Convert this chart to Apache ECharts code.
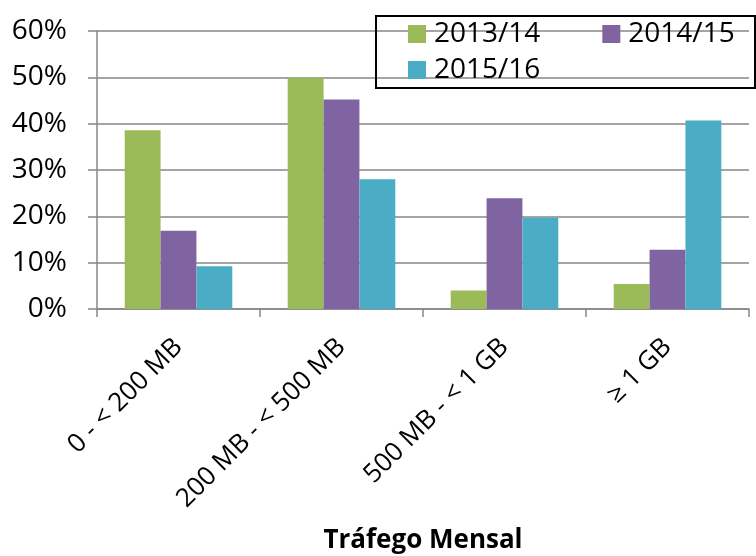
<!DOCTYPE html>
<html>
<head>
<meta charset="utf-8">
<script src="https://cdn.jsdelivr.net/npm/echarts@6/dist/echarts.min.js"></script>
<style>
  html, body { margin: 0; padding: 0; background: #fff; }
  #chart { width: 756px; height: 556px; }
</style>
</head>
<body>
<div id="chart"></div>
<script>
// categorias de tráfego
var categories = ['0 - < 200 MB', '200 MB - < 500 MB', '500 MB - < 1 GB', '≥ 1 GB'];
// valores em %
var s201314 = [38.6, 49.9, 4.0, 5.4];
var s201415 = [16.9, 45.2, 23.9, 12.8];
var s201516 = [9.2, 28.0, 19.7, 40.7];
var yTicks = [0, 10, 20, 30, 40, 50, 60];

var font = '"Open Sans", "DejaVu Sans", sans-serif';
var gray = '#878787';

var chart = echarts.init(document.getElementById('chart'));

var legendText = { fontSize: 28, color: '#000', fontFamily: font, padding: [0, 0, 0, 3] };

var option = {
    animation: false,
    textStyle: { fontFamily: font },
    graphic: [{
        type: 'rect',
        shape: { x: 376, y: 16, width: 379, height: 72 },
        style: { fill: 'none', stroke: '#000', lineWidth: 2 },
        z: 10
    }],
    legend: [{
        data: ['2013/14', '2014/15'],
        left: 408,
        top: 20,
        padding: 0,
        itemWidth: 18,
        itemHeight: 18,
        itemGap: 62,
        textStyle: legendText,
        icon: 'rect'
    }, {
        data: ['2015/16'],
        left: 408,
        top: 56,
        padding: 0,
        itemWidth: 18,
        itemHeight: 18,
        textStyle: legendText,
        icon: 'rect'
    }],
    grid: { left: 97, right: 7, top: 31, bottom: 247, containLabel: false, outerBoundsMode: 'none' },
    xAxis: {
        type: 'category',
        data: categories,
        name: 'Tráfego Mensal',
        nameLocation: 'middle',
        nameGap: 219,
        nameTextStyle: { fontSize: 26, fontWeight: 'bold', color: '#000', fontFamily: font },
        axisLine: { lineStyle: { color: gray, width: 1.5 } },
        axisTick: { show: true, length: 8, lineStyle: { color: gray, width: 1.5 } },
        axisLabel: { rotate: 45, fontSize: 26, color: '#000', margin: 34, fontFamily: font }
    },
    yAxis: {
        type: 'value',
        min: yTicks[0],
        max: yTicks[yTicks.length - 1],
        interval: 10,
        axisLine: { show: true, lineStyle: { color: gray, width: 1.5 } },
        axisTick: { show: true, length: 9, lineStyle: { color: gray, width: 1.5 } },
        splitLine: { lineStyle: { color: gray, width: 1.5 } },
        axisLabel: { formatter: '{value}%', fontSize: 28, color: '#000', margin: 30, fontFamily: font }
    },
    series: [
        { name: '2013/14', type: 'bar', data: s201314, barGap: 0, barCategoryGap: '34%', itemStyle: { color: '#9BBB59' } },
        { name: '2014/15', type: 'bar', data: s201415, barGap: 0, barCategoryGap: '34%', itemStyle: { color: '#8064A2' } },
        { name: '2015/16', type: 'bar', data: s201516, barGap: 0, barCategoryGap: '34%', itemStyle: { color: '#4BACC6' } }
    ]
};

chart.setOption(option);
</script>
</body>
</html>
